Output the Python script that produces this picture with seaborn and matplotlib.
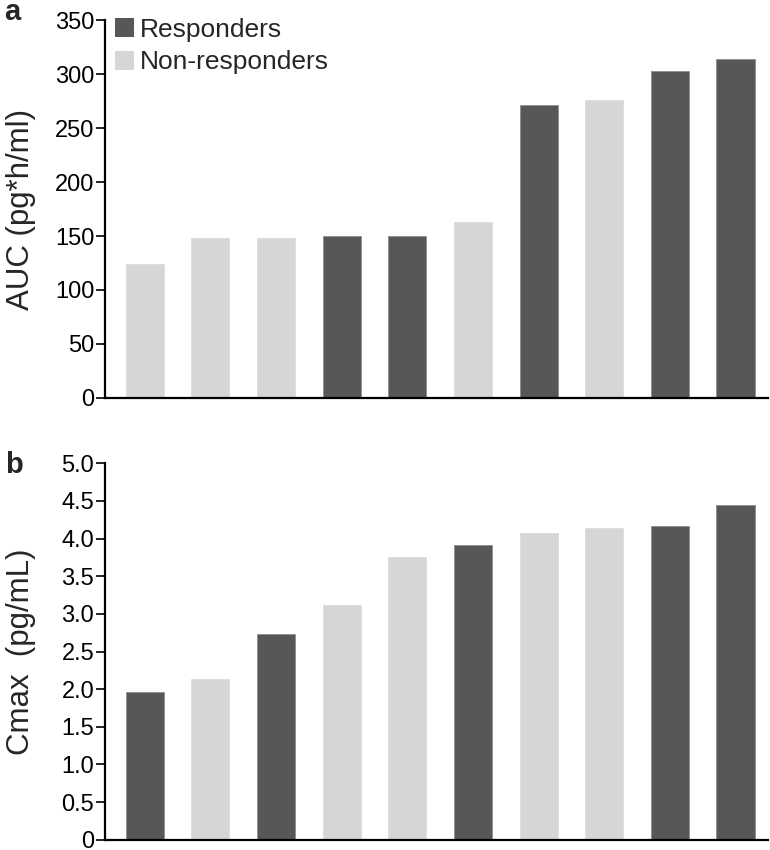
import numpy as np
import pandas as pd
import seaborn as sns
import matplotlib
matplotlib.use("Agg")
import matplotlib.pyplot as plt

# Data
auc_values = [124, 148, 148, 150, 150, 163, 272, 276, 303, 314]
auc_groups = ["Non-responders", "Non-responders", "Non-responders", "Responders",
              "Responders", "Non-responders", "Responders", "Non-responders",
              "Responders", "Responders"]

cmax_values = [1.96, 2.14, 2.73, 3.12, 3.75, 3.91, 4.07, 4.14, 4.17, 4.45]
cmax_groups = ["Responders", "Non-responders", "Responders", "Non-responders",
               "Non-responders", "Responders", "Non-responders", "Non-responders",
               "Responders", "Responders"]

group_order = ["Responders", "Non-responders"]
palette = {"Responders": "#575757", "Non-responders": "#d6d6d6"}
edges = {"Responders": "#8e8e8e", "Non-responders": "#dcdcdc"}

sns.set_style("ticks")
plt.rcParams["font.family"] = ["Liberation Sans", "DejaVu Sans"]

dfA = pd.DataFrame({"idx": range(len(auc_values)), "value": auc_values, "group": auc_groups})
dfB = pd.DataFrame({"idx": range(len(cmax_values)), "value": cmax_values, "group": cmax_groups})

fig = plt.figure(figsize=(7.7, 8.5), dpi=100)
axA = fig.add_axes([0.136, 0.532, 0.861, 0.444])
axB = fig.add_axes([0.136, 0.012, 0.861, 0.443])


def draw_panel(ax, df, ymax, step, label, letter, letter_y, fmt, legend):
    sns.barplot(data=df, x="idx", y="value", hue="group", hue_order=group_order,
                palette=palette, dodge=False, width=0.58, ax=ax,
                linewidth=0.6, legend=legend)
    # thin edge a touch lighter than the fill, like the original
    for bar in ax.patches:
        fc = bar.get_facecolor()
        bar.set_edgecolor(edges["Responders"] if fc[0] < 0.5 else edges["Non-responders"])
    ax.set_xlim(-0.61, 9.49)
    ax.set_ylim(0, ymax)
    ticks = np.arange(0, ymax + step / 2, step)
    ax.set_yticks(ticks)
    ax.set_yticklabels([fmt(t) for t in ticks], fontsize=17)
    ax.set_xticks([])
    ax.set_xlabel("")
    ax.set_ylabel(label, fontsize=22.5)
    ax.yaxis.set_label_coords(-0.104, 0.5)
    for s in ["top", "right"]:
        ax.spines[s].set_visible(False)
    for s in ["left", "bottom"]:
        ax.spines[s].set_linewidth(1.6)
        ax.spines[s].set_color("black")
    ax.tick_params(axis="y", length=6.5, width=1.2, pad=1, colors="black")
    ax.text(-0.151, letter_y, letter, transform=ax.transAxes, fontsize=21,
            fontweight="bold", va="baseline", ha="left")


draw_panel(axA, dfA, 350, 50, "AUC (pg*h/ml)", "a", 1.0, lambda t: f"{t:.0f}", True)
draw_panel(axB, dfB, 5.0, 0.5, "Cmax  (pg/mL)", "b", 0.973,
           lambda t: "0" if t == 0 else f"{t:.1f}", False)

leg = axA.legend(loc="upper left", bbox_to_anchor=(0.016, 1.007), frameon=False,
                 fontsize=19, handlelength=0.72, handleheight=0.72,
                 handletextpad=0.22, labelspacing=0.33, borderpad=0,
                 borderaxespad=0)
for h in leg.legend_handles:
    h.set_edgecolor("none")

fig.savefig("out.png", dpi=100)
